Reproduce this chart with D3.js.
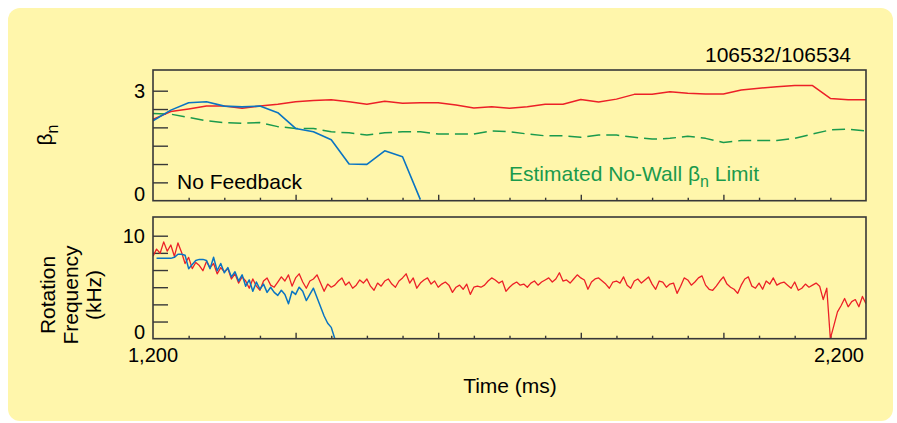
<!DOCTYPE html>
<html>
<head>
<meta charset="utf-8">
<script src="https://cdnjs.cloudflare.com/ajax/libs/d3/7.8.5/d3.min.js"></script>
<style>
body { margin: 0; background: #fff; }
text { font-family: 'Liberation Sans', Arial, Helvetica, sans-serif; }
</style>
</head>
<body>
<script>
// beta_n, sampled every 25 ms
var betaTimes = d3.range(1200, 2201, 25)
var betaFeedback = [2.22, 2.43, 2.50, 2.58, 2.58, 2.52, 2.58, 2.63, 2.70, 2.73, 2.75, 2.70, 2.63, 2.71, 2.66, 2.67, 2.67, 2.61, 2.53, 2.56,
	2.52, 2.56, 2.63, 2.63, 2.76, 2.69, 2.77, 2.90, 2.90, 2.97, 2.93, 2.91, 2.91, 3.02, 3.07, 3.11, 3.14, 3.14, 2.79, 2.75, 2.75]
var betaLimit = [2.38, 2.36, 2.27, 2.18, 2.13, 2.11, 2.13, 2.02, 1.97, 1.97, 1.88, 1.85, 1.79, 1.85, 1.88, 1.88, 1.82, 1.82, 1.82, 1.90,
	1.88, 1.82, 1.77, 1.77, 1.73, 1.79, 1.79, 1.73, 1.68, 1.70, 1.76, 1.70, 1.59, 1.64, 1.64, 1.64, 1.70, 1.82, 1.93, 1.95, 1.90]
var betaNoFeedback = [2.18, 2.47, 2.67, 2.70, 2.58, 2.56, 2.58, 2.40, 1.97, 1.88, 1.66, 1.00, 0.99, 1.36, 1.20, 0.03]

// rotation frequency (kHz), sampled every 5 ms
var rotTimes = d3.range(1200, 2201, 5)
var rotFeedback = [
	8.0, 8.7, 8.3, 9.4, 8.5, 9.1, 8.0, 9.3, 8.4,
	7.3, 7.9, 6.8, 7.4, 7.1, 6.6, 7.5, 6.9, 7.3, 6.3, 6.9, 6.5,
	6.8, 5.8, 6.3, 5.4, 6.0, 5.6, 4.9, 5.8, 5.1, 4.7, 5.6, 5.9, 5.2,
	5.0, 5.5, 6.0, 5.6, 6.2, 5.1, 5.9, 6.3, 5.5, 4.9, 5.6, 5.8, 6.2, 5.4, 4.6, 5.3, 5.0,
	5.2, 5.6, 5.9, 5.2, 5.5, 4.9, 5.2, 5.7, 5.4, 5.8, 5.1, 4.7, 5.4, 5.1, 5.6, 5.8, 5.3,
	5.0, 5.6, 5.9, 6.3, 5.4, 5.9, 4.9, 5.4, 5.7, 5.9, 5.3, 5.6, 5.0, 5.3, 5.5, 5.2, 4.5, 5.0, 5.2, 4.8,
	5.3, 4.3, 5.0, 5.1, 5.0, 5.2, 5.6, 5.9, 5.7, 5.4, 5.6, 4.6, 5.0,
	5.3, 5.5, 5.2, 5.3, 5.0, 5.4, 5.6, 5.2, 5.5, 5.7, 5.9, 5.5, 5.8, 6.4, 5.6, 5.7, 5.4, 5.8, 6.2, 5.9,
	5.7, 4.8, 5.5, 5.8, 5.9, 5.6, 5.3, 4.9, 5.5, 5.6, 5.4, 6.0, 5.2, 4.9,
	5.6, 5.8, 5.4, 5.7, 6.0, 5.3, 4.8, 5.6, 5.5, 5.0, 5.3, 5.4, 4.4, 5.1, 5.9, 5.7, 5.2, 5.5, 5.9, 6.1,
	5.2, 4.8, 4.7, 5.1, 5.6, 6.0, 5.3, 5.0, 4.8, 4.4, 5.2, 5.8, 6.0, 5.1, 4.9,
	5.4, 4.8, 5.6, 5.3, 5.9, 5.2, 5.4, 5.5, 5.2, 4.9, 5.5, 4.7, 4.9, 5.3, 5.0, 5.2, 5.4, 5.1, 3.8, 4.9,
	0.0, 1.3, 2.6, 3.2, 3.9, 3.1, 3.6, 3.8, 3.1, 4.1, 3.4]
var rotNoFeedbackTimes = d3.range(1205, 1456, 5)
var rotNoFeedback = [
	7.8, 7.8, 7.8, 7.8, 7.8, 7.9, 8.2, 8.2, 8.1, 6.8, 7.2, 7.6, 7.7, 7.7, 7.6, 6.8, 7.9, 6.6, 7.3, 6.4,
	6.9, 6.0, 6.5, 5.6, 6.2, 5.1, 5.7, 4.6, 5.5, 4.8, 5.3, 4.5, 5.0, 4.5, 4.2, 4.7, 4.3, 3.4, 4.6, 4.3,
	5.0, 4.6, 3.7, 4.3, 4.9, 4.0, 3.1, 2.2, 1.5, 1.1, 0.0]

var betaTicks = [0.5, 1, 1.5, 2, 2.5, 3]
var rotTicks = [10 / 6, 20 / 6, 30 / 6, 40 / 6, 50 / 6, 10]
var timeMinorTicks = [1250, 1300, 1350, 1450, 1500, 1550, 1650, 1700, 1750, 1850, 1900, 1950, 2050, 2100, 2150]
var timeMajorTicks = [1400, 1600, 1800, 2000]

var red = '#ec2027', blue = '#0a74c2', green = '#1a9a4c', ink = '#383838'

var svg = d3.select('body').append('svg')
	.attr('width', 897)
	.attr('height', 423)

svg.append('rect')
	.attr('x', 8).attr('y', 8)
	.attr('width', 885).attr('height', 413)
	.attr('rx', 12)
	.style('fill', '#fff6ab')

var x = d3.scaleLinear().domain([1200, 2200]).range([153, 866])
var yBeta = d3.scaleLinear().domain([0, 3]).range([200.7, 90.7])
var yRot = d3.scaleLinear().domain([0, 10]).range([338.7, 235.7])

var panels = [{ id: 'beta', top: 70, bottom: 200.7, y: yBeta, ticks: betaTicks },
	{ id: 'rot', top: 217, bottom: 338.7, y: yRot, ticks: rotTicks }]

panels.forEach(function(p){
	svg.append('clipPath').attr('id', 'clip-' + p.id)
		.append('rect')
		.attr('x', 153).attr('y', p.top)
		.attr('width', 713).attr('height', p.bottom - p.top)

	var yAx = svg.append('g')
		.attr('transform', 'translate(153,0)')
		.call(d3.axisRight(p.y).tickValues(p.ticks).tickSize(15).tickFormat(''))
	var xMinor = svg.append('g')
		.attr('transform', 'translate(0,' + p.bottom + ')')
		.call(d3.axisTop(x).tickValues(timeMinorTicks).tickSize(3).tickFormat(''))
	var xMajor = svg.append('g')
		.attr('transform', 'translate(0,' + p.bottom + ')')
		.call(d3.axisTop(x).tickValues(timeMajorTicks).tickSize(6).tickFormat(''))
	;[yAx, xMinor, xMajor].forEach(function(g){
		g.select('.domain').remove()
		g.selectAll('line').style('stroke', ink).style('stroke-width', 1.4)
	})
})

function drawLine(panel, times, values, y, color, width, dash){
	var line = d3.line()
		.x(function(d, i){ return x(times[i]) })
		.y(function(d){ return y(d) })
	var path = svg.append('path')
		.datum(values)
		.attr('clip-path', 'url(#clip-' + panel + ')')
		.attr('d', line)
		.style('fill', 'none')
		.style('stroke', color)
		.style('stroke-width', width)
		.style('stroke-linejoin', 'round')
	if (dash) path.style('stroke-dasharray', dash)
	return path
}

drawLine('beta', betaTimes, betaLimit, yBeta, green, 1.5, '13,6')
drawLine('beta', betaTimes, betaFeedback, yBeta, red, 1.5)
drawLine('beta', betaTimes.slice(0, betaNoFeedback.length), betaNoFeedback, yBeta, blue, 1.6)

drawLine('rot', rotTimes, rotFeedback, yRot, red, 1.3)
drawLine('rot', rotNoFeedbackTimes, rotNoFeedback, yRot, blue, 1.5)

// frames on top of the data
panels.forEach(function(p){
	svg.append('rect')
		.attr('x', 153).attr('y', p.top)
		.attr('width', 713).attr('height', p.bottom - p.top)
		.style('fill', 'none')
		.style('stroke', ink)
		.style('stroke-width', 1.6)
})

var fs = 20, fsText = 21

// tick labels
svg.append('text').attr('x', 145).attr('y', yBeta(3)).attr('dy', '0.35em')
	.attr('text-anchor', 'end').style('font-size', fs + 'px').text('3')
svg.append('text').attr('x', 145).attr('y', yBeta(0) - 7).attr('dy', '0.35em')
	.attr('text-anchor', 'end').style('font-size', fs + 'px').text('0')
svg.append('text').attr('x', 145).attr('y', yRot(10)).attr('dy', '0.35em')
	.attr('text-anchor', 'end').style('font-size', fs + 'px').text('10')
svg.append('text').attr('x', 145).attr('y', yRot(0) - 7).attr('dy', '0.35em')
	.attr('text-anchor', 'end').style('font-size', fs + 'px').text('0')
svg.append('text').attr('x', x(1200)).attr('y', 362)
	.attr('text-anchor', 'middle').style('font-size', fs + 'px').text('1,200')
svg.append('text').attr('x', x(2200) - 2).attr('y', 362)
	.attr('text-anchor', 'end').style('font-size', fs + 'px').text('2,200')

svg.append('text').attr('x', 510).attr('y', 393)
	.attr('text-anchor', 'middle').style('font-size', fsText + 'px').text('Time (ms)')

svg.append('text').attr('x', 851).attr('y', 62)
	.attr('text-anchor', 'end').style('font-size', fsText + 'px').text('106532/106534')

svg.append('text').attr('x', 177).attr('y', 189)
	.style('font-size', fsText + 'px').text('No Feedback')

var lim = svg.append('text').attr('x', 509).attr('y', 181)
	.style('font-size', fsText + 'px').style('fill', green)
lim.append('tspan').text('Estimated No-Wall \u03b2')
lim.append('tspan').attr('dy', 6).style('font-size', '16px').text('n')
lim.append('tspan').attr('dy', -6).text(' Limit')

// y axis titles
var bl = svg.append('text')
	.attr('transform', 'translate(52,135) rotate(-90)')
	.attr('text-anchor', 'middle')
	.style('font-size', fsText + 'px')
bl.append('tspan').text('\u03b2')
bl.append('tspan').attr('dy', 6).style('font-size', '16px').text('n')

var rl = svg.append('text')
	.attr('transform', 'translate(0,295) rotate(-90)')
	.attr('text-anchor', 'middle')
	.style('font-size', fsText + 'px')
;['Rotation', 'Frequency', '(kHz)'].forEach(function(s, i){
	rl.append('tspan').attr('x', 0).attr('y', 55 + i * 23).text(s)
})
</script>
</body>
</html>
